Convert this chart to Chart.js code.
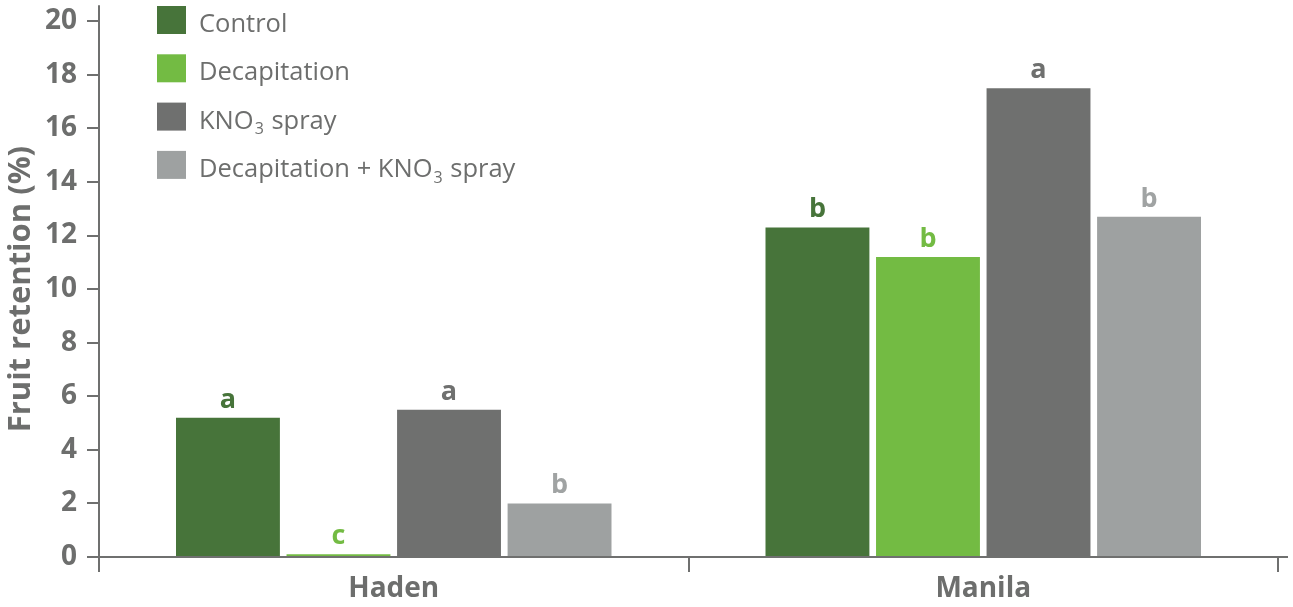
<!DOCTYPE html>
<html>
<head>
<meta charset="utf-8">
<script src="https://cdn.jsdelivr.net/npm/chart.js@4/dist/chart.umd.min.js"></script>
<style>
  html, body { margin: 0; padding: 0; background: #ffffff; }
  #wrap { width: 1293px; height: 607px; position: relative; }
</style>
</head>
<body>
<div id="wrap"><canvas id="chart" width="1293" height="607"></canvas></div>
<script>
// Cultivars on the x axis
const categories = ['Haden', 'Manila'];

// Treatments (legend entries); "_3" marks a subscript digit
const treatments = ['Control', 'Decapitation', 'KNO_3 spray', 'Decapitation + KNO_3 spray'];

// Fruit retention (%) per treatment, one value per cultivar
const controlValues      = [5.2, 12.3];
const decapitationValues = [0.1, 11.2];
const kno3Values         = [5.5, 17.5];
const decapKno3Values    = [2.0, 12.7];

// Significance letters shown above each bar
const controlLetters      = ['a', 'b'];
const decapitationLetters = ['c', 'b'];
const kno3Letters         = ['a', 'a'];
const decapKno3Letters    = ['b', 'b'];

// Y axis tick values
const yTicks = [0, 2, 4, 6, 8, 10, 12, 14, 16, 18, 20];

const colors = ['#47743a', '#73bb43', '#6f706f', '#9ea1a1'];
const letterColors = ['#47743a', '#73bb43', '#6f706f', '#a0a3a3'];
const textGray = '#6d6e6d';
const axisGray = '#6f706f';
const FONT = '"Open Sans", "Noto Sans", sans-serif';

const seriesValues = [controlValues, decapitationValues, kno3Values, decapKno3Values];
const seriesLetters = [controlLetters, decapitationLetters, kno3Letters, decapKno3Letters];

// Draws a label, rendering "_d" as a smaller lowered digit
function drawRichText(ctx, text, x, y, size, weight) {
  const parts = text.split(/(_\d)/);
  let cx = x;
  parts.forEach(p => {
    if (!p) return;
    if (p.startsWith('_')) {
      ctx.font = weight + ' ' + Math.round(size * 0.62) + 'px ' + FONT;
      ctx.fillText(p.slice(1), cx + 1, y + size * 0.22);
      cx += ctx.measureText(p.slice(1)).width + 2;
    } else {
      ctx.font = weight + ' ' + size + 'px ' + FONT;
      ctx.fillText(p, cx, y);
      cx += ctx.measureText(p).width;
    }
  });
}

// Axis lines run a little past the plot area (up and to the right)
const axisOverhang = {
  id: 'axisOverhang',
  afterDraw(chart) {
    const { ctx, chartArea: a } = chart;
    ctx.save();
    ctx.strokeStyle = axisGray;
    ctx.lineWidth = 2;
    ctx.beginPath();
    ctx.moveTo(a.left, a.top + 1);
    ctx.lineTo(a.left, a.top - 16);
    ctx.moveTo(a.right - 1, a.bottom);
    ctx.lineTo(a.right + 10, a.bottom);
    ctx.stroke();
    ctx.restore();
  }
};

// Letters above bars
const letterPlugin = {
  id: 'barLetters',
  afterDatasetsDraw(chart) {
    const ctx = chart.ctx;
    ctx.save();
    ctx.textAlign = 'center';
    ctx.textBaseline = 'alphabetic';
    ctx.font = 'bold 27px ' + FONT;
    chart.data.datasets.forEach((ds, di) => {
      const meta = chart.getDatasetMeta(di);
      meta.data.forEach((bar, i) => {
        ctx.fillStyle = letterColors[di];
        ctx.fillText(seriesLetters[di][i], bar.x, bar.y - 10);
      });
    });
    ctx.restore();
  }
};

// Legend inside the plot area, top-left
const legendPlugin = {
  id: 'insideLegend',
  afterDraw(chart) {
    const ctx = chart.ctx;
    ctx.save();
    ctx.textAlign = 'left';
    ctx.textBaseline = 'alphabetic';
    const x0 = 157, y0 = 20, step = 48.3, boxW = 29, boxH = 28;
    treatments.forEach((name, i) => {
      const cy = y0 + i * step;
      ctx.fillStyle = colors[i];
      ctx.fillRect(x0, cy - boxH / 2, boxW, boxH);
      ctx.fillStyle = textGray;
      drawRichText(ctx, name, x0 + 42, cy + 12, 25.5, 'normal');
    });
    ctx.restore();
  }
};

new Chart(document.getElementById('chart'), {
  type: 'bar',
  data: {
    labels: categories,
    datasets: treatments.map((name, i) => ({
      label: name,
      data: seriesValues[i],
      backgroundColor: colors[i],
      borderWidth: 0,
      categoryPercentage: 0.75,
      barPercentage: 0.94
    }))
  },
  options: {
    responsive: false,
    animation: false,
    layout: { padding: { top: 6, right: 15, bottom: 0, left: 0 } },
    plugins: {
      legend: { display: false },
      tooltip: { enabled: false }
    },
    scales: {
      x: {
        offset: true,
        grid: {
          display: true,
          offset: true,
          drawOnChartArea: false,
          drawTicks: true,
          tickLength: 15,
          color: axisGray,
          lineWidth: 2
        },
        border: { display: true, color: axisGray, width: 2 },
        ticks: {
          color: textGray,
          font: { family: FONT, size: 28, weight: 'bold' },
          padding: 0
        },
        afterFit(scale) { scale.height = 50; }
      },
      y: {
        min: 0,
        max: 20,
        afterBuildTicks(scale) { scale.ticks = yTicks.map(v => ({ value: v })); },
        grid: {
          display: true,
          drawOnChartArea: false,
          drawTicks: true,
          tickLength: 12,
          color: axisGray,
          lineWidth: 2
        },
        border: { display: true, color: axisGray, width: 2 },
        ticks: {
          color: textGray,
          font: { family: FONT, size: 28, weight: 'bold', lineHeight: 0.8 },
          padding: 10
        },
        title: {
          display: true,
          text: 'Fruit retention (%)',
          color: textGray,
          font: { family: FONT, size: 31, weight: 'bold' },
          padding: { top: 3, bottom: 0 }
        },
        afterFit(scale) { scale.width = 99; }
      }
    }
  },
  plugins: [letterPlugin, legendPlugin, axisOverhang]
});
</script>
</body>
</html>
